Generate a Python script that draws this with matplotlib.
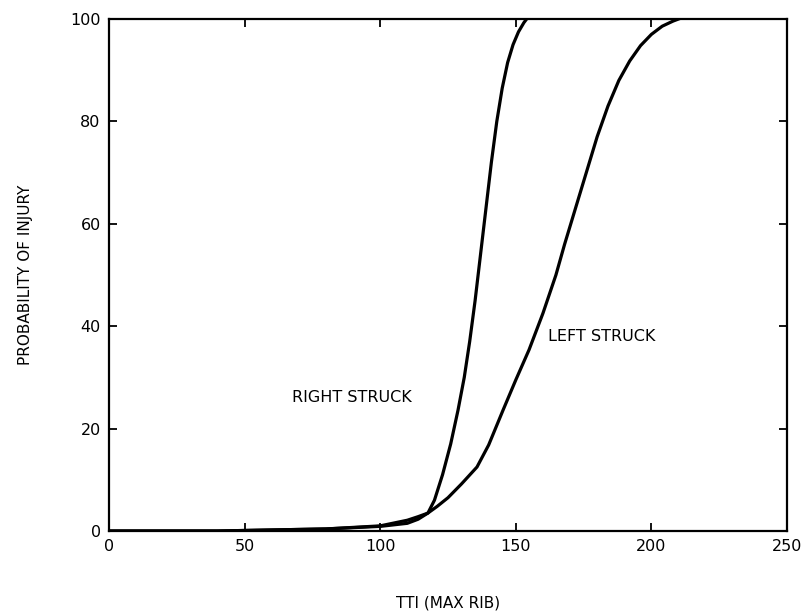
import matplotlib.pyplot as plt

# curve points (TTI, probability %)
right_x = [0, 40, 60, 80, 100, 110, 114, 117.6, 120, 123, 126, 128.7, 131, 133, 135, 137, 139, 141, 143, 145, 147, 149, 151, 153, 154]
right_y = [0, 0, 0.2, 0.4, 0.9, 1.5, 2.3, 3.5, 6, 11, 17, 23.6, 30, 37, 45, 54, 63, 72, 80, 86.5, 91.5, 95, 97.5, 99.3, 100]

left_x = [0, 40, 60, 80, 100, 110, 114, 117.6, 121, 125, 130, 135.7, 140, 145.3, 150, 154.9, 160, 164.8, 168, 172, 176, 180, 184, 188, 192, 196, 200, 204, 208, 210]
left_y = [0, 0, 0.2, 0.4, 1.0, 2.1, 2.8, 3.5, 4.8, 6.5, 9.2, 12.5, 16.8, 23.6, 29.5, 35.4, 42.5, 50, 56, 63, 70, 77, 83, 88, 91.8, 94.8, 97, 98.6, 99.6, 100]

x_ticks = [0, 50, 100, 150, 200, 250]
y_ticks = [0, 20, 40, 60, 80, 100]

plt.rcParams['font.family'] = ['DejaVu Sans']

fig = plt.figure(figsize=(8.05, 6.14), dpi=100)
ax = fig.add_axes([0.1354, 0.1352, 0.8422, 0.8338])

ax.plot(right_x, right_y, color="black", lw=2.3, solid_joinstyle="round")
ax.plot(left_x, left_y, color="black", lw=2.3, solid_joinstyle="round")

ax.set_xlim(0, 250)
ax.set_ylim(0, 100)
ax.set_xticks(x_ticks)
ax.set_yticks(y_ticks)
ax.tick_params(direction="in", length=6, width=1.3, top=True, right=True,
               labelsize=11.5, pad=6)
for s in ax.spines.values():
    s.set_linewidth(1.6)

ax.text(67.5, 26, "RIGHT STRUCK", fontsize=11.5, va="center")
ax.text(162, 38, "LEFT STRUCK", fontsize=11.5, va="center")

ax.set_xlabel("TTI (MAX RIB)", fontsize=11, labelpad=30)
ax.set_ylabel("PROBABILITY OF INJURY", fontsize=11, labelpad=27)

fig.savefig("out.png", dpi=100)
